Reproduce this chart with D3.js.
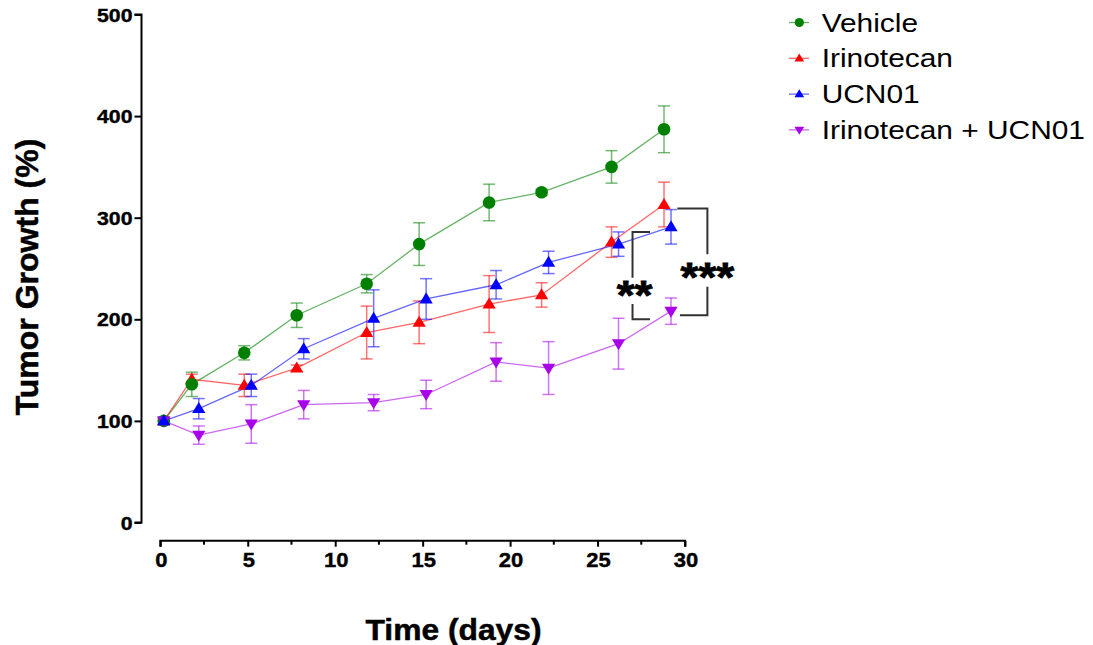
<!DOCTYPE html>
<meta charset="utf-8">
<script src="https://d3js.org/d3.v7.min.js"></script>
<style>
  body { margin: 0; background: #fff; }
  text { font-family: "Liberation Sans", Arial, sans-serif; }
</style>
<div id="chart"></div>
<script>
// ---- data ----
const seriesNames = ["Vehicle", "Irinotecan", "UCN01", "Irinotecan + UCN01"];
// Prism-style nudge: first two groups plotted slightly left, last two slightly right
const daysLeft  = [0.2, 1.8, 4.8, 7.8, 11.8, 14.8, 18.8, 21.8, 25.8, 28.8];
const daysRight = [0.2, 2.2, 5.2, 8.2, 12.2, 15.2, 19.2, 22.2, 26.2, 29.2];
const vehicleMean = [100, 136, 167, 204, 235, 274, 315, 325, 350, 387];
const vehicleSem  = [3, 12, 7, 12, 9, 21, 18, 3, 16, 23];
const irinoMean   = [100, 141, 135, 152, 187, 197, 215, 224, 276, 313];
const irinoSem    = [3, 5, 11, 3, 26, 21, 28, 12, 15, 22];
const ucnMean     = [100, 112, 135, 171, 201, 220, 234, 256, 274, 291];
const ucnSem      = [3, 10, 11, 10, 28, 20, 14, 11, 12, 17];
const comboMean   = [100, 86, 97, 116, 118, 126, 158, 152, 176, 208];
const comboSem    = [4, 9, 19, 14, 8, 14, 19, 26, 25, 13];
const xTicks = [0, 5, 10, 15, 20, 25, 30];
const yTicks = [0, 100, 200, 300, 400, 500];
// significance brackets (data units)
const sigLabels = ["**", "***"];
const sigX      = [27.0, 31.28];
const sigArmX   = [[28.0, 28.0], [29.56, 29.71]];
const sigTop    = [286, 309];
const sigBottom = [200, 204];
const sigGap    = [[241, 215], [264, 232]];
const sigText   = [231, 249];

const colors  = ["#008000", "#ff0000", "#0000ff", "#a800e8"];
const symbols = ["circle", "up", "up", "down"];

const series = [
  {name: seriesNames[0], x: daysLeft,  y: vehicleMean, e: vehicleSem},
  {name: seriesNames[1], x: daysLeft,  y: irinoMean,   e: irinoSem},
  {name: seriesNames[2], x: daysRight, y: ucnMean,     e: ucnSem},
  {name: seriesNames[3], x: daysRight, y: comboMean,   e: comboSem}
];
series.forEach((s, i) => { s.color = colors[i]; s.sym = symbols[i]; });

const W = 1093, H = 645;
const svg = d3.select("#chart").append("svg")
  .attr("width", W).attr("height", H)
  .style("background", "#fff");

const x = d3.scaleLinear().domain([0, 30]).range([160.3, 685]);
const y = d3.scaleLinear().domain([0, 500]).range([522.5, 14.5]);
const yAxisX = 141.5, xAxisY = 540.7;

// horizontally stretched text (the source image is a bit wide)
function stext(g, str, px, py, size, sx, weight, anchor) {
  return g.append("text")
    .attr("transform", `translate(${px},${py}) scale(${sx},1)`)
    .attr("font-size", size + "px")
    .attr("font-weight", weight)
    .attr("text-anchor", anchor)
    .attr("fill", "#000")
    .text(str);
}

// ---- axes ----
const yAxis = svg.append("g").attr("transform", `translate(${yAxisX},0)`)
  .call(d3.axisLeft(y).tickValues(yTicks).tickSize(7).tickFormat(""));
yAxis.select(".domain").attr("d", `M-7,${y(500)}H0V${y(0)}H-7`).attr("stroke-width", 2);
yAxis.selectAll(".tick line").attr("stroke-width", 2);
yTicks.forEach(v => stext(svg, v, 132.5, y(v) + 7, 18.5, 1.15, "bold", "end")
  .attr("stroke", "#000").attr("stroke-width", 0.4));

const xMinor = d3.range(2.5, 30, 5);
const xAxis = svg.append("g").attr("transform", `translate(0,${xAxisY})`)
  .call(d3.axisBottom(x).tickValues(xTicks).tickSize(6).tickFormat(""));
xAxis.select(".domain").attr("d", `M${x(0)},6V0H${x(30)}V6`).attr("stroke-width", 2);
xAxis.selectAll(".tick line").attr("stroke-width", 2);
xAxis.selectAll(".minor").data(xMinor).join("line")
  .attr("x1", d => x(d)).attr("x2", d => x(d))
  .attr("y1", 0).attr("y2", 4)
  .attr("stroke", "#000").attr("stroke-width", 2);
xTicks.forEach(v => stext(svg, v, x(v) + 1, 567, 20, 1.1, "bold", "middle")
  .attr("stroke", "#000").attr("stroke-width", 0.4));

stext(svg, "Time (days)", 453.5, 639.5, 30, 1.06, "bold", "middle")
  .attr("stroke", "#000").attr("stroke-width", 0.5);
svg.append("text")
  .attr("transform", "translate(38,277) rotate(-90)")
  .attr("font-size", "32px").attr("font-weight", "bold")
  .attr("text-anchor", "middle")
  .attr("stroke", "#000").attr("stroke-width", 0.5)
  .text("Tumor Growth (%)");

// ---- markers ----
function markerPath(sym, r) {
  if (sym === "circle") return d3.symbol(d3.symbolCircle, Math.PI * r * r)();
  const h = r * 1.75, w = r * 1.05;
  if (sym === "up") return `M0,${-h * 0.6}L${w},${h * 0.4}L${-w},${h * 0.4}Z`;
  return `M0,${h * 0.6}L${w},${-h * 0.4}L${-w},${-h * 0.4}Z`;
}

const plot = svg.append("g");
const line = d3.line().x(d => x(d[0])).y(d => y(d[1]));

series.forEach(s => {
  const pts = s.x.map((d, i) => [d, s.y[i], s.e[i]]);
  const g = plot.append("g");
  g.append("path").datum(pts).attr("d", line)
    .attr("fill", "none").attr("stroke", s.color)
    .attr("stroke-opacity", 0.6).attr("stroke-width", 1.3);
  const eb = g.selectAll(".eb").data(pts).join("g").attr("stroke", s.color)
    .attr("stroke-opacity", 0.55).attr("stroke-width", 1.5);
  eb.append("line").attr("x1", d => x(d[0])).attr("x2", d => x(d[0]))
    .attr("y1", d => y(d[1] - d[2])).attr("y2", d => y(d[1] + d[2]));
  eb.append("line").attr("x1", d => x(d[0]) - 6).attr("x2", d => x(d[0]) + 6)
    .attr("y1", d => y(d[1] + d[2])).attr("y2", d => y(d[1] + d[2]));
  eb.append("line").attr("x1", d => x(d[0]) - 6).attr("x2", d => x(d[0]) + 6)
    .attr("y1", d => y(d[1] - d[2])).attr("y2", d => y(d[1] - d[2]));
  s.pts = pts;
});

// marker draw order as in the source: red, green, purple, blue on top
[1, 0, 3, 2].forEach(k => {
  const s = series[k];
  plot.append("g").selectAll("path").data(s.pts).join("path")
    .attr("transform", d => `translate(${x(d[0])},${y(d[1])})`)
    .attr("d", markerPath(s.sym, 6.3))
    .attr("fill", s.color);
});

// ---- significance brackets ----
const br = svg.append("g").attr("stroke", "#333").attr("stroke-width", 2).attr("fill", "none");
sigLabels.forEach((lab, i) => {
  const xv = x(sigX[i]);
  br.append("path").attr("d",
    `M${x(sigArmX[i][0])},${y(sigTop[i])}H${xv}V${y(sigGap[i][0])}` +
    `M${xv},${y(sigGap[i][1])}V${y(sigBottom[i])}H${x(sigArmX[i][1])}`);
  stext(svg, lab, xv + (i === 0 ? 2 : 0), y(sigText[i]) + 21, 40, 1.15, "bold", "middle")
    .attr("stroke", "#000").attr("stroke-width", 0.8);
});

// ---- legend ----
const lg = svg.append("g");
series.forEach((s, i) => {
  const ly = 22.5 + 35.8 * i;
  lg.append("line").attr("x1", 789).attr("x2", 809).attr("y1", ly).attr("y2", ly)
    .attr("stroke", s.color).attr("stroke-opacity", 0.6).attr("stroke-width", 1.3);
  lg.append("path").attr("transform", `translate(799.3,${ly})`)
    .attr("d", markerPath(s.sym, 4.6)).attr("fill", s.color);
  stext(lg, s.name, 821.7, ly + 9, 26, 1.15, "normal", "start");
});
</script>
